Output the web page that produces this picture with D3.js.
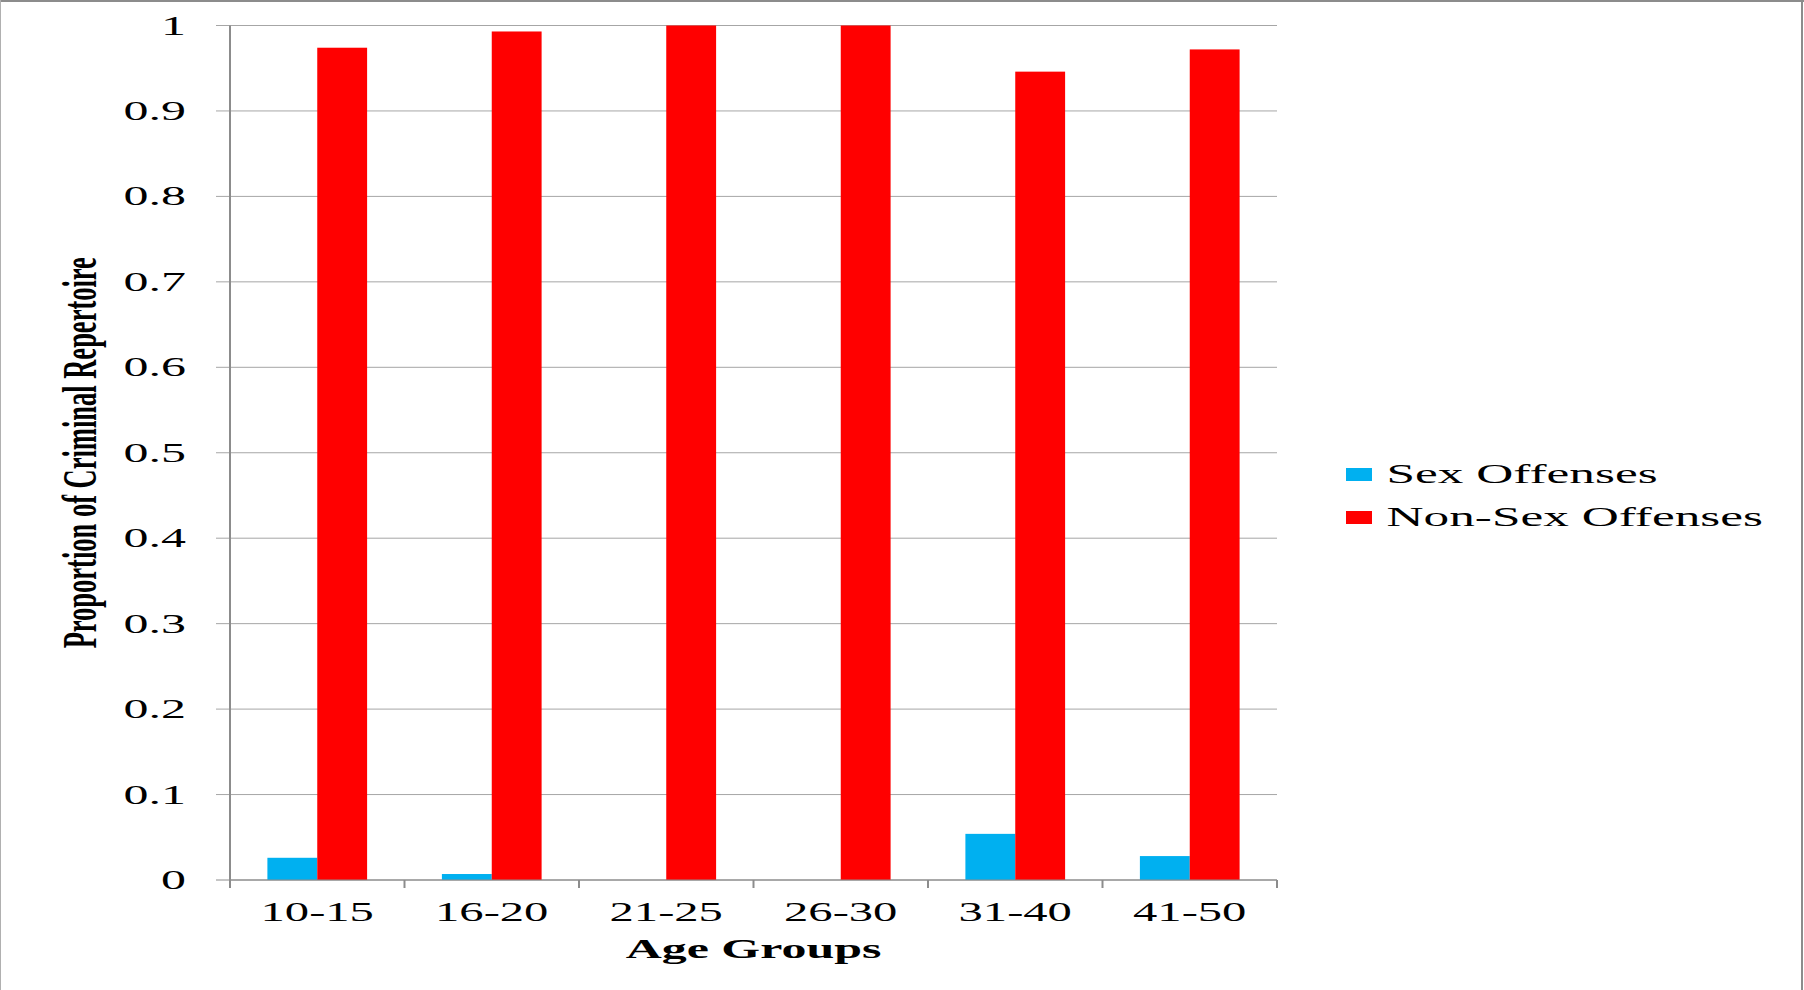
<!DOCTYPE html>
<html>
<head>
<meta charset="utf-8">
<script src="https://cdnjs.cloudflare.com/ajax/libs/d3/7.8.5/d3.min.js"></script>
<style>
  html, body { margin: 0; padding: 0; background: #fff; }
  svg { display: block; }
  text { font-family: "Liberation Serif", "Times New Roman", serif; fill: #000; }
</style>
</head>
<body>
<div id="chart"></div>
<script>
  "use strict";

  // Chart data
  var ageGroups = ["10-15", "16-20", "21-25", "26-30", "31-40", "41-50"];
  var seriesNames = ["Sex Offenses", "Non-Sex Offenses"];
  var seriesColors = ["#00B0F0", "#FF0000"];
  var sexOffenses = [0.026, 0.007, 0, 0, 0.054, 0.028];
  var nonSexOffenses = [0.974, 0.993, 1, 1, 0.946, 0.972];
  var yTickValues = [0, 0.1, 0.2, 0.3, 0.4, 0.5, 0.6, 0.7, 0.8, 0.9, 1];
  var yTickLabels = ["0", "0.1", "0.2", "0.3", "0.4", "0.5", "0.6", "0.7", "0.8", "0.9", "1"];

  var WIDTH = 1804;
  var HEIGHT = 990;
  // the original picture is stretched sideways, so text is too
  var SX = 1.85;
  var FONT = 27;

  var plot = { left: 230, right: 1277, top: 25.5, bottom: 880 };

  var svg = d3.select('#chart')
      .append('svg')
      .attr('width', WIDTH)
      .attr('height', HEIGHT);

  // frame round the picture
  drawLine(svg, 0, 1, WIDTH, 1, '#8c8c8c', 2);
  drawLine(svg, 0.5, 0, 0.5, HEIGHT, '#b0b0b0', 1);
  drawLine(svg, WIDTH - 2, 0, WIDTH - 2, HEIGHT, '#8c8c8c', 2);

  var x = d3.scaleBand()
      .domain(ageGroups)
      .range([plot.left, plot.right])
      .padding(0);

  var xInner = d3.scaleBand()
      .domain(seriesNames)
      .range([0, x.bandwidth()])
      .paddingInner(0)
      .paddingOuter(0.75);

  var y = d3.scaleLinear()
      .domain([0, 1])
      .range([plot.bottom, plot.top]);

  // Horizontal gridlines with their little tick stubs left of the axis
  yTickValues.forEach(function(v, i) {
    drawLine(svg, plot.left - 14, y(v), plot.right, y(v), i === 0 ? '#8c8c8c' : '#a6a6a6', 1);
    stretchedText(svg, yTickLabels[i], 186, y(v) + 9, 'end', 'normal', SX);
  });

  // Bars
  var rows = ageGroups.map(function(g, i) {
    return { group: g, values: [sexOffenses[i], nonSexOffenses[i]] };
  });

  var groups = svg.append('g')
    .selectAll('g')
    .data(rows)
    .join('g')
      .attr('transform', function(d) { return 'translate(' + x(d.group) + ',0)'; });

  groups.selectAll('rect')
    .data(function(d) {
      return d.values.map(function(v, j) { return { name: seriesNames[j], value: v, color: seriesColors[j] }; });
    })
    .join('rect')
      .attr('x', function(d) { return xInner(d.name); })
      .attr('width', xInner.bandwidth())
      .attr('y', function(d) { return y(d.value); })
      .attr('height', function(d) { return y(0) - y(d.value); })
      .attr('fill', function(d) { return d.color; });

  // Axis lines, drawn over the bars
  drawLine(svg, plot.left, plot.top, plot.left, plot.bottom + 8, '#8c8c8c', 2);
  drawLine(svg, plot.left, plot.bottom, plot.right, plot.bottom, '#8c8c8c', 1);

  // Category boundaries with tick marks below the axis
  ageGroups.forEach(function(g) {
    drawLine(svg, x(g), plot.bottom, x(g), plot.bottom + 8, '#8c8c8c', 2);
    stretchedText(svg, g, x(g) + x.bandwidth() / 2, 920.5, 'middle', 'normal', 1.8);
  });
  drawLine(svg, plot.right, plot.bottom, plot.right, plot.bottom + 8, '#8c8c8c', 2);

  // Axis titles
  stretchedText(svg, 'Age Groups', (plot.left + plot.right) / 2, 958, 'middle', 'bold', SX);

  svg.append('text')
      .attr('transform', 'translate(96,' + ((plot.top + plot.bottom) / 2) + ') scale(1.8,1) rotate(-90)')
      .attr('text-anchor', 'middle')
      .attr('font-size', 26.5)
      .attr('font-weight', 'bold')
      .text('Proportion of Criminal Repertoire');

  // Legend
  var legendY = [468, 511];
  seriesNames.forEach(function(name, i) {
    svg.append('rect')
        .attr('x', 1346)
        .attr('y', legendY[i])
        .attr('width', 26)
        .attr('height', 13)
        .attr('fill', seriesColors[i]);
    stretchedText(svg, name, 1386.5, legendY[i] + 14.5, 'start', 'normal', 1.9);
  });

  /**
   * Draws a plain line.
   */
  function drawLine(parent, x1, y1, x2, y2, color, width) {
    parent.append('line')
        .attr('x1', x1)
        .attr('y1', y1)
        .attr('x2', x2)
        .attr('y2', y2)
        .attr('stroke', color)
        .attr('stroke-width', width);
  }

  /**
   * Writes text that is widened sideways like the rest of the picture.
   */
  function stretchedText(parent, str, tx, ty, anchor, weight, sx) {
    parent.append('text')
        .attr('transform', 'translate(' + tx + ',' + ty + ') scale(' + sx + ',1)')
        .attr('text-anchor', anchor)
        .attr('font-size', FONT)
        .attr('font-weight', weight)
        .text(str);
  }
</script>
</body>
</html>
